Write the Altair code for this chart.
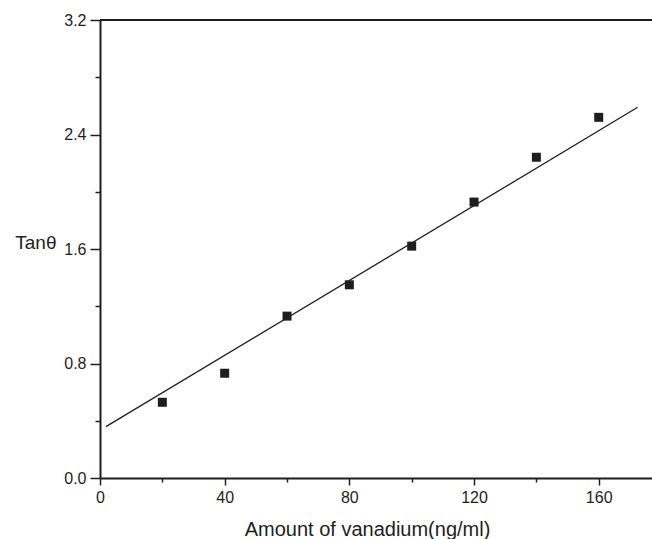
import altair as alt
import pandas as pd

# data
amount = [20, 40, 60, 80, 100, 120, 140, 160]
tan_theta = [0.529, 0.732, 1.131, 1.350, 1.620, 1.928, 2.241, 2.520]

# fitted line drawn in the figure (end points)
fit_x = [1.9, 172.5]
fit_y = [0.359, 2.590]

x_major = [0, 40, 80, 120, 160]
x_minor = [20, 60, 100, 140]
y_major = [0.0, 0.8, 1.6, 2.4, 3.2]
y_minor = [0.4, 1.2, 2.0, 2.8]

X_DOMAIN = [0, 177.1]
Y_DOMAIN = [0, 3.2]

pts_df = pd.DataFrame({"amount": amount, "tan": tan_theta})
fit_df = pd.DataFrame({"amount": fit_x, "tan": fit_y})

FONT = "Liberation Sans"
INK = "#1e1e1e"

xs = alt.Scale(domain=X_DOMAIN, nice=False, zero=False)
ys = alt.Scale(domain=Y_DOMAIN, nice=False, zero=False)

x_axis = alt.Axis(
    values=x_major, orient="bottom", tickSize=7, tickWidth=1.5, tickColor=INK,
    domainColor=INK, domainWidth=2, labelFont=FONT, labelFontSize=16,
    labelColor=INK, labelPadding=4, labelFlush=False, grid=False,
    title="Amount of vanadium(ng/ml)", titleFont=FONT, titleFontSize=20,
    titleFontWeight="normal", titleColor=INK, titleX=267, titleY=57,
    titleBaseline="alphabetic", titleAlign="center",
)
y_axis = alt.Axis(
    values=y_major, format=".1f", orient="left", tickSize=10, tickWidth=1.5,
    tickColor=INK, domainColor=INK, domainWidth=2, labelFont=FONT,
    labelFontSize=16, labelColor=INK, labelPadding=4, grid=False,
    title="Tanθ", titleFont=FONT, titleFontSize=19, titleFontWeight="normal",
    titleColor=INK, titleAngle=0, titleAlign="right", titleX=-44, titleY=228,
    titleBaseline="alphabetic",
)
x_minor_axis = alt.Axis(
    values=x_minor, orient="bottom", tickSize=4, tickWidth=1.5, tickColor=INK,
    labels=False, domain=False, grid=False, title=None,
)
y_minor_axis = alt.Axis(
    values=y_minor, orient="left", tickSize=5, tickWidth=1.5, tickColor=INK,
    labels=False, domain=False, grid=False, title=None,
)

points = alt.Chart(pts_df).mark_square(size=81, color=INK, opacity=1).encode(
    x=alt.X("amount:Q", scale=xs, axis=x_axis),
    y=alt.Y("tan:Q", scale=ys, axis=y_axis),
)

minor = alt.Chart(pts_df).mark_point(opacity=0).encode(
    x=alt.X("amount:Q", scale=xs, axis=x_minor_axis),
    y=alt.Y("tan:Q", scale=ys, axis=y_minor_axis),
)

fit = alt.Chart(fit_df).mark_line(color=INK, strokeWidth=1.3).encode(
    x=alt.X("amount:Q", scale=xs, axis=None),
    y=alt.Y("tan:Q", scale=ys, axis=None),
)

top = alt.Chart(pts_df).mark_rule(color=INK, strokeWidth=1.5).encode(
    x=alt.XDatum(X_DOMAIN[0], scale=xs, axis=None),
    x2=alt.X2Datum(X_DOMAIN[1]),
    y=alt.YDatum(Y_DOMAIN[1], scale=ys, axis=None),
)

chart = (
    alt.layer(top, fit, points, minor)
    .resolve_axis(x="independent", y="independent")
    .properties(
        width=552, height=458,
        autosize=alt.AutoSizeParams(type="none"),
        padding={"left": 100, "top": 20, "right": 0, "bottom": 61},
        background="white",
    )
    .configure_view(stroke=None)
)

chart.save("out.html", embed_options={"renderer": "svg", "actions": False})
